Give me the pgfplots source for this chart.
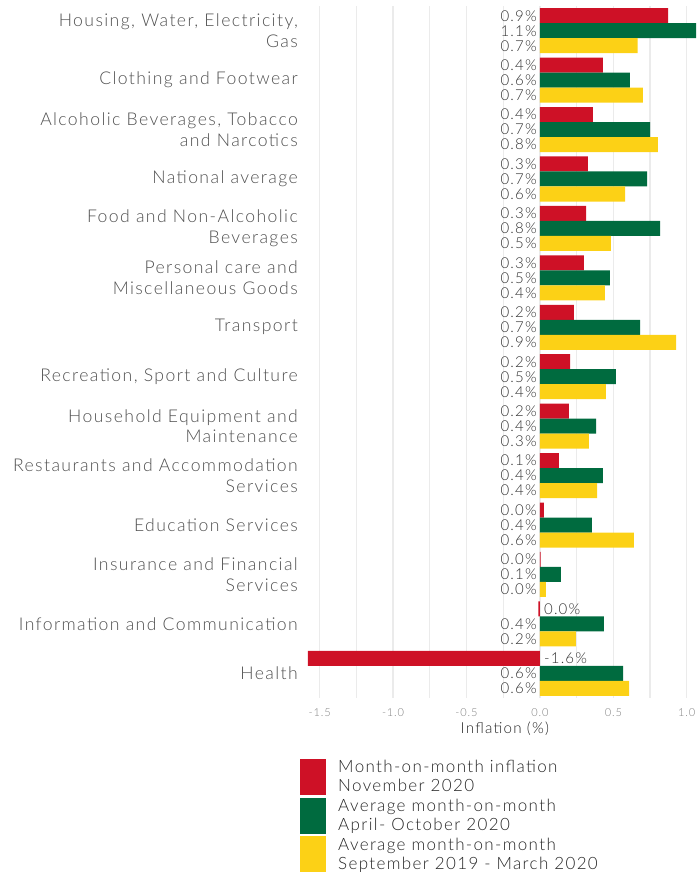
\documentclass[border=0pt]{standalone}
\usepackage{fontspec}
\setmainfont{Lato Light}[LetterSpace=8]
\usepackage{pgfplots}
\usepackage{pgfplotstable}
\pgfplotsset{compat=1.18}
\definecolor{ghred}{HTML}{CE1126}
\definecolor{ghgreen}{HTML}{006B3F}
\definecolor{ghyellow}{HTML}{FCD116}
\definecolor{gridgray}{HTML}{EBEBEB}
\definecolor{labgray}{HTML}{505050}
\definecolor{tickgray}{HTML}{7F7F7F}
\definecolor{valgray}{HTML}{333333}

\pgfplotstableread{
idx r g y lr lg ly
0 0.873 1.100 0.666 0.9 1.1 0.7
1 0.429 0.613 0.702 0.4 0.6 0.7
2 0.361 0.750 0.804 0.4 0.7 0.8
3 0.327 0.730 0.580 0.3 0.7 0.6
4 0.314 0.818 0.484 0.3 0.8 0.5
5 0.300 0.477 0.443 0.3 0.5 0.4
6 0.232 0.682 0.927 0.2 0.7 0.9
7 0.205 0.518 0.450 0.2 0.5 0.4
8 0.198 0.382 0.334 0.2 0.4 0.3
9 0.130 0.429 0.389 0.1 0.4 0.4
10 0.027 0.354 0.640 0.0 0.4 0.6
11 0.005 0.143 0.040 0.0 0.1 0.0
12 -0.010 0.436 0.245 0.0 0.4 0.2
13 -1.580 0.566 0.607 -1.6 0.6 0.6
}\datatable

\pgfplotstableread{
idx lr
0 0.9
1 0.4
2 0.4
3 0.3
4 0.3
5 0.3
6 0.2
7 0.2
8 0.2
9 0.1
10 0.0
11 0.0
}\redpos

\pgfplotstableread{
idx lr
12 0.0
13 -1.6
}\redneg

\begin{document}
\begin{tikzpicture}[x=1pt,y=1pt]
\useasboundingbox (0,0) rectangle (696,874);
\begin{axis}[
  at={(302pt,176pt)}, anchor=south west,
  scale only axis, width=394pt, height=692pt,
  xmin=-1.62, xmax=1.063,
  ymin=-0.5, ymax=13.5, y dir=reverse,
  axis line style={draw=none},
  major tick length=0pt, minor tick length=0pt,
  xtick={-1.5,-1,-0.5,0,0.5,1},
  minor xtick={-1.25,-0.75,-0.25,0.25,0.75},
  xmajorgrids, xminorgrids,
  major grid style={gridgray, line width=1.3pt},
  minor grid style={gridgray, line width=1.1pt},
  /pgf/number format/assume math mode=true,
  xticklabel={\pgfmathprintnumber[fixed,fixed zerofill,precision=1]{\tick}},
  xticklabel style={anchor=base, yshift=-18pt, inner sep=0pt, text=tickgray, font=\fontsize{11}{13}\selectfont},
  xlabel={Inflation (\%)},
  xlabel style={at={(axis description cs:0.515,0)}, anchor=base, yshift=-35pt, inner sep=0pt, text=black!85, font=\fontsize{15.2}{19}\selectfont},
  ytick={0,...,13},
  yticklabels={{Housing, Water, Electricity,\\Gas},
    {Clothing and Footwear},
    {Alcoholic Beverages, Tobacco\\and Narcotics},
    {National average},
    {Food and Non-Alcoholic\\Beverages},
    {Personal care and\\Miscellaneous Goods},
    {Transport},
    {Recreation, Sport and Culture},
    {Household Equipment and\\Maintenance},
    {Restaurants and Accommodation\\Services},
    {Education Services},
    {Insurance and Financial\\Services},
    {Information and Communication},
    {Health}},
  yticklabel style={align=right, anchor=east, inner sep=0pt, xshift=-4pt, text=labgray, font=\fontsize{17.6}{20.5}\selectfont},
  legend cell align=left,
  legend image code/.code={\fill[#1] (0pt,-18pt) rectangle (26pt,18pt);},
  legend style={at={(rel axis cs:-0.005,-0.0867)}, anchor=north west, draw=none, fill=none, inner sep=0pt,
    row sep=2pt, column sep=10pt, font=\fontsize{17}{19}\selectfont, text=black!85,
    cells={align=left, anchor=west}},
]
\addplot[xbar, bar width=0.3035, bar shift=0pt, fill=ghred, draw=none]
  table[x=r, y expr=\thisrow{idx}-0.3035] {\datatable};
\addlegendentry{Month-on-month inflation\\November 2020}
\addplot[xbar, bar width=0.3035, bar shift=0pt, fill=ghgreen, draw=none]
  table[x=g, y expr=\thisrow{idx}] {\datatable};
\addlegendentry{Average month-on-month\\April- October 2020}
\addplot[xbar, bar width=0.3035, bar shift=0pt, fill=ghyellow, draw=none]
  table[x=y, y expr=\thisrow{idx}+0.3035] {\datatable};
\addlegendentry{Average month-on-month\\September 2019 - March 2020}

\pgfplotsset{valnode/.style={forget plot, only marks, mark=none, point meta=explicit,
  nodes near coords={\pgfmathprintnumber[fixed,fixed zerofill,precision=1]{\pgfplotspointmeta}\%},
  nodes near coords style={inner sep=0pt, text=valgray, font=\fontsize{15}{15}\selectfont}}}
\addplot[valnode, nodes near coords style={anchor=east, xshift=-3pt}]
  table[x expr=0, y expr=\thisrow{idx}-0.3035, meta=lr] {\redpos};
\addplot[valnode, nodes near coords style={anchor=west, xshift=4pt}]
  table[x expr=0, y expr=\thisrow{idx}-0.3035, meta=lr] {\redneg};
\addplot[valnode, nodes near coords style={anchor=east, xshift=-3pt}]
  table[x expr=0, y expr=\thisrow{idx}, meta=lg] {\datatable};
\addplot[valnode, nodes near coords style={anchor=east, xshift=-3pt}]
  table[x expr=0, y expr=\thisrow{idx}+0.3035, meta=ly] {\datatable};
\end{axis}
\end{tikzpicture}
\end{document}
